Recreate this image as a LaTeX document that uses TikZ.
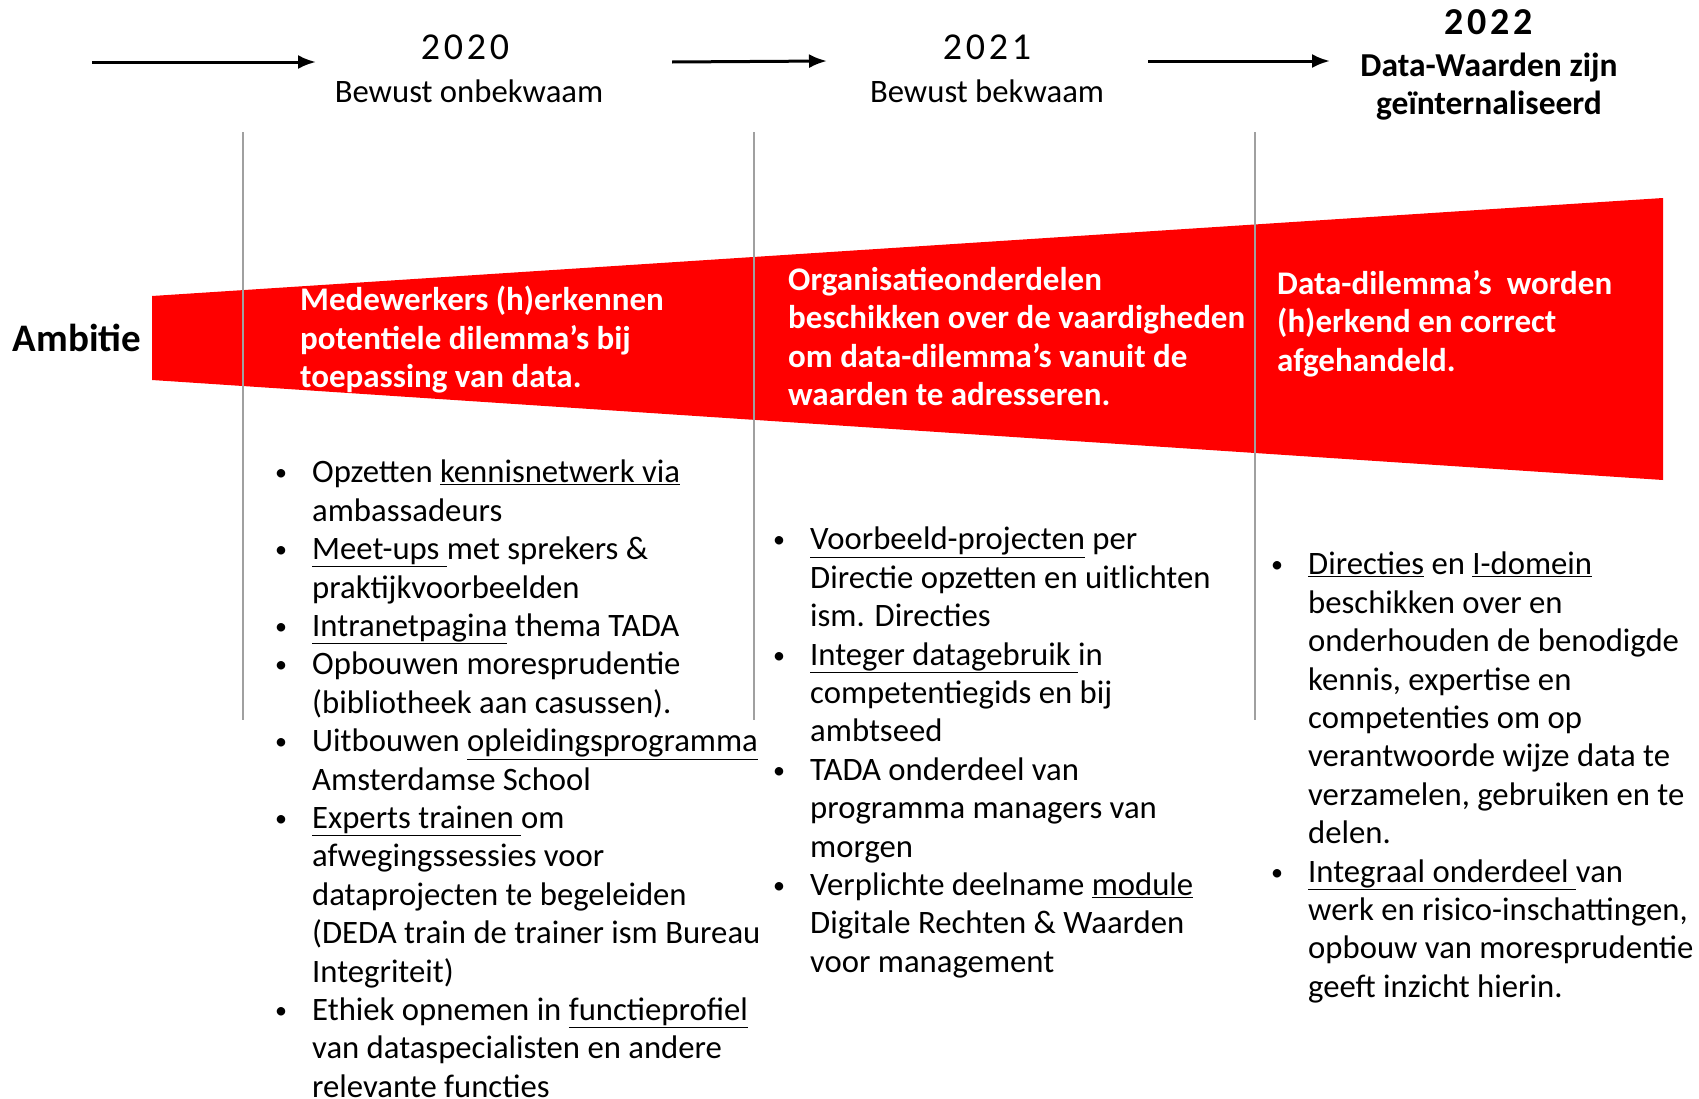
\documentclass[tikz,border=0pt]{standalone}
\usepackage{fontspec}
\setmainfont{Carlito}
\usetikzlibrary{arrows.meta,positioning}
\definecolor{ambred}{RGB}{255,0,0}
\definecolor{stagegray}{RGB}{160,160,160}
\newcommand{\bul}{\makebox[37pt][l]{\raisebox{2pt}{\fontsize{24}{24}\selectfont\textbullet}}}
\newcommand{\ind}{\hspace*{37pt}}
\tikzset{
  year/.style={font=\fontsize{38}{40}\selectfont\addfontfeature{LetterSpace=10}, inner sep=0},
  fase/.style={font=\fontsize{32.7}{36}\selectfont, inner sep=0},
  goal/.style={font=\bfseries\fontsize{33.5}{38}\selectfont, align=center, inner sep=0},
  ambition/.style={text=white, font=\bfseries\fontsize{33}{38.5}\selectfont, align=left, anchor=north west, inner sep=0},
  actions/.style={font=\fontsize{32.7}{38.4}\selectfont, align=left, anchor=north west, inner sep=0},
  stage/.style={draw=stagegray, line width=1.3pt},
  timeline/.style={-{Latex[length=18pt,width=14pt]}, line width=3pt}
}
\begin{document}
\begin{tikzpicture}[x=1pt,y=-1pt]
\useasboundingbox (0,0) rectangle (1699,1098);
% ambitie
\fill[ambred] (152,296) -- (1663,198) -- (1663,480) -- (152,380) -- cycle;
\draw[stage] (243,132) -- (243,720);
\draw[stage] (754,132) -- (754,720);
\draw[stage] (1255,132) -- (1255,720);
\node[font=\bfseries\fontsize{39}{40}\selectfont] (amb) at (77,338) {Ambitie};

% tijdlijn
\node[year] (y20) at (465,47) {2020};
\node[fase, below=20pt of y20, xshift=4pt] (f20) {Bewust onbekwaam};
\node[year] (y21) at (987,47) {2021};
\node[fase, below=20pt of y21] (f21) {Bewust bekwaam};
\node[year, font=\bfseries\fontsize{38}{40}\selectfont\addfontfeature{LetterSpace=10}] (y22) at (1489,22) {2022};
\node[goal, below=18pt of y22] (f22) {Data-Waarden zijn\\ge\"internaliseerd};
\coordinate (a1) at (92,62);
\coordinate (b1) at (316,62);
\coordinate (a2) at (672,62);
\coordinate (b2) at (827,61);
\coordinate (a3) at (1148,61);
\coordinate (b3) at (1330,61);
\draw[timeline] (a1) -- (b1);
\draw[timeline] (a2) -- (b2);
\draw[timeline] (a3) -- (b3);

% ambities per jaar
\node[ambition] (amb20) at (300,286) {Medewerkers (h)erkennen\\potentiele dilemma’s bij\\toepassing van data.};
\node[ambition] (amb21) at (788,267) {Organisatieonderdelen\\beschikken over de vaardigheden\\om data-dilemma’s vanuit de\\waarden te adresseren.};
\node[ambition] (amb22) at (1277,270) {Data-dilemma’s\ \ worden\\(h)erkend en correct\\afgehandeld.};

% acties
\node[actions] (act20) at (275,460) {\bul Opzetten \underline{kennisnetwerk via}\\
\ind ambassadeurs\\
\bul \underline{Meet-ups }met sprekers \&\\
\ind praktijkvoorbeelden\\
\bul \underline{Intranetpagina} thema TADA\\
\bul Opbouwen moresprudentie\\
\ind (bibliotheek aan casussen).\\
\bul Uitbouwen \underline{opleidingsprogramma}\\
\ind Amsterdamse School\\
\bul \underline{Experts trainen }om\\
\ind afwegingssessies voor\\
\ind dataprojecten te begeleiden\\
\ind (DEDA train de trainer ism Bureau\\
\ind Integriteit)\\
\bul Ethiek opnemen in \underline{functieprofiel}\\
\ind van dataspecialisten en andere\\
\ind relevante functies};
\node[actions] (act21) at (773,527) {\bul \underline{Voorbeeld-projecten} per\\
\ind Directie opzetten en uitlichten\\
\ind ism. Directies\\
\bul \underline{Integer datagebruik }in\\
\ind competentiegids en bij\\
\ind ambtseed\\
\bul TADA onderdeel van\\
\ind programma managers van\\
\ind morgen\\
\bul Verplichte deelname \underline{module}\\
\ind Digitale Rechten \& Waarden\\
\ind voor management};
\node[actions] (act22) at (1271,552) {\bul \underline{Directies} en \underline{I-domein}\\
\ind beschikken over en\\
\ind onderhouden de benodigde\\
\ind kennis, expertise en\\
\ind competenties om op\\
\ind verantwoorde wijze data te\\
\ind verzamelen, gebruiken en te\\
\ind delen.\\
\bul \underline{Integraal onderdeel }van\\
\ind werk en risico-inschattingen,\\
\ind opbouw van moresprudentie\\
\ind geeft inzicht hierin.};
\end{tikzpicture}
\end{document}
